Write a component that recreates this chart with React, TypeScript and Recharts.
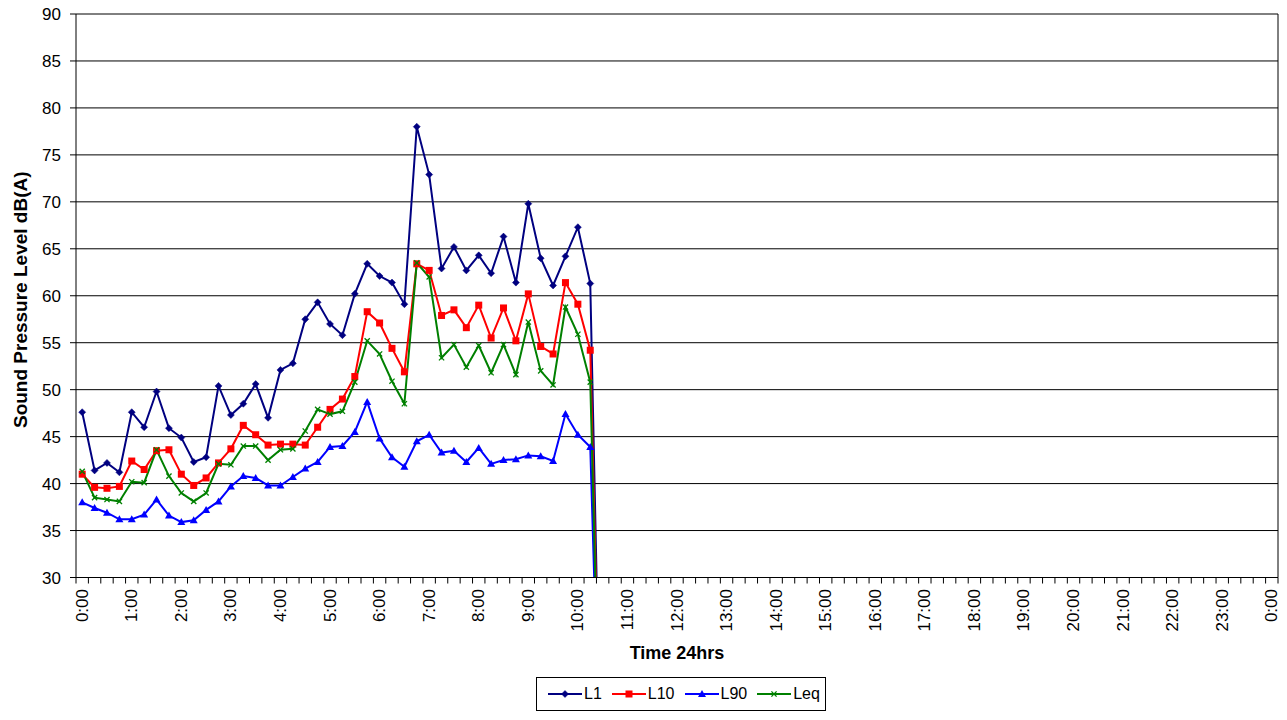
import React from "react";
import {
  LineChart,
  Line,
  XAxis,
  YAxis,
  CartesianGrid,
  Legend,
  ReferenceLine,
} from "recharts";

// 15-minute sample times (category labels)
const times = [
  "0:00", "0:15", "0:30", "0:45", "1:00", "1:15", "1:30", "1:45",
  "2:00", "2:15", "2:30", "2:45", "3:00", "3:15", "3:30", "3:45",
  "4:00", "4:15", "4:30", "4:45", "5:00", "5:15", "5:30", "5:45",
  "6:00", "6:15", "6:30", "6:45", "7:00", "7:15", "7:30", "7:45",
  "8:00", "8:15", "8:30", "8:45", "9:00", "9:15", "9:30", "9:45",
  "10:00", "10:15", "10:30",
];

const L1 = [
  47.6, 41.4, 42.2, 41.2, 47.6, 46.0, 49.8, 45.9, 44.9, 42.3, 42.8, 50.4,
  47.3, 48.5, 50.6, 47.0, 52.1, 52.8, 57.5, 59.3, 57.0, 55.8, 60.2, 63.4,
  62.1, 61.4, 59.1, 78.0, 72.9, 62.9, 65.2, 62.7, 64.3, 62.4, 66.3, 61.4,
  69.8, 64.0, 61.1, 64.2, 67.3, 61.3, 0,
];

const L10 = [
  41.0, 39.6, 39.5, 39.7, 42.4, 41.5, 43.5, 43.6, 41.0, 39.8, 40.6, 42.2,
  43.7, 46.2, 45.2, 44.1, 44.2, 44.2, 44.1, 46.0, 47.9, 49.0, 51.4, 58.3,
  57.1, 54.4, 51.9, 63.4, 62.7, 57.9, 58.5, 56.6, 59.0, 55.5, 58.7, 55.2,
  60.2, 54.6, 53.8, 61.4, 59.1, 54.2, 0,
];

const L90 = [
  38.0, 37.4, 36.9, 36.2, 36.2, 36.7, 38.3, 36.6, 35.9, 36.1, 37.2, 38.1,
  39.7, 40.8, 40.6, 39.8, 39.8, 40.7, 41.6, 42.3, 43.9, 44.0, 45.5, 48.7,
  44.8, 42.8, 41.8, 44.5, 45.2, 43.3, 43.5, 42.3, 43.8, 42.1, 42.5, 42.6,
  43.0, 42.9, 42.4, 47.4, 45.2, 43.9, 0,
];

const Leq = [
  41.3, 38.5, 38.3, 38.1, 40.2, 40.1, 43.6, 40.8, 39.0, 38.1, 39.0, 42.1,
  42.0, 44.0, 44.0, 42.5, 43.6, 43.7, 45.6, 47.9, 47.4, 47.7, 50.8, 55.2,
  53.8, 50.9, 48.5, 63.5, 62.0, 53.4, 54.8, 52.4, 54.7, 51.8, 54.8, 51.6,
  57.2, 52.0, 50.5, 58.8, 55.9, 50.8, 0,
];

// hour tick labels (every 4th 15-min slot, 0:00 .. next-day 0:00)
const hourLabels = [
  "0:00", "1:00", "2:00", "3:00", "4:00", "5:00", "6:00", "7:00", "8:00",
  "9:00", "10:00", "11:00", "12:00", "13:00", "14:00", "15:00", "16:00",
  "17:00", "18:00", "19:00", "20:00", "21:00", "22:00", "23:00", "0:00",
];

const yTicks = [30, 35, 40, 45, 50, 55, 60, 65, 70, 75, 80, 85, 90];

const slotCount = 97; // 0:00 .. 24:00 in 15 min slots
// tick marks sit on slot boundaries; labels are centred in every 4th slot
const boundaryTicks = Array.from({ length: slotCount + 1 }, (_, i) => i - 0.5);

const data = times.map((time, i) => ({
  i,
  time,
  L1: L1[i],
  L10: L10[i],
  L90: L90[i],
  Leq: Leq[i],
}));

const FONT = "'Liberation Sans', Arial, sans-serif";

const CHART_W = 1287;
const CHART_H = 720;
const MARGIN = { top: 14, right: 9, bottom: 9, left: 0 };
const Y_AXIS_W = 76;
const PLOT_W = CHART_W - MARGIN.left - MARGIN.right - Y_AXIS_W;

const COLORS: Record<string, string> = {
  L1: "#000080",
  L10: "#FF0000",
  L90: "#0000FF",
  Leq: "#008000",
};

function Marker({ kind, cx, cy }: { kind: string; cx: number; cy: number }) {
  const c = COLORS[kind];
  if (kind === "L1") {
    const r = 3.5;
    return (
      <polygon
        points={`${cx},${cy - r} ${cx + r},${cy} ${cx},${cy + r} ${cx - r},${cy}`}
        fill={c}
        stroke={c}
        strokeWidth={0.5}
      />
    );
  }
  if (kind === "L10") {
    return <rect x={cx - 3.5} y={cy - 3.5} width={7} height={7} fill={c} />;
  }
  if (kind === "L90") {
    return (
      <polygon
        points={`${cx},${cy - 4} ${cx + 4},${cy + 3} ${cx - 4},${cy + 3}`}
        fill={c}
      />
    );
  }
  const r = 2.6;
  return (
    <g stroke={c} strokeWidth={1.3}>
      <line x1={cx - r} y1={cy - r} x2={cx + r} y2={cy + r} />
      <line x1={cx - r} y1={cy + r} x2={cx + r} y2={cy - r} />
    </g>
  );
}

const makeDot = (kind: string) => (props: any) => {
  const { cx, cy, index } = props;
  if (cx == null || cy == null || !isFinite(cx) || !isFinite(cy)) {
    return <g key={`${kind}-dot-${index}`} />;
  }
  return (
    <g key={`${kind}-dot-${index}`}>
      <Marker kind={kind} cx={cx} cy={cy} />
    </g>
  );
};

const XTick = (props: any) => {
  const { x, y, payload } = props;
  const slot = payload.value + 0.5; // index of slot starting at this boundary
  if (slot % 4 !== 0 || slot >= slotCount) return <g />;
  const label = hourLabels[slot / 4];
  const halfBand = PLOT_W / slotCount / 2;
  const tx = x + halfBand;
  const ty = y + 5.5;
  return (
    <text
      x={tx}
      y={ty}
      transform={`rotate(-90, ${tx}, ${ty})`}
      textAnchor="end"
      dominantBaseline="central"
      fontSize={17}
      fontFamily={FONT}
      fill="#000"
    >
      {label}
    </text>
  );
};

const YLabel = (props: any) => {
  const vb = props.viewBox || { x: 0, y: 0, width: 0, height: 0 };
  const cx = vb.x + 26.5;
  const cy = vb.y + vb.height / 2 + 4;
  return (
    <text
      x={cx}
      y={cy}
      transform={`rotate(-90, ${cx}, ${cy})`}
      textAnchor="middle"
      fontSize={19}
      fontWeight="bold"
      fontFamily={FONT}
      fill="#000"
    >
      Sound Pressure Level dB(A)
    </text>
  );
};

const LegendContent = (props: any) => {
  const payload = props.payload || [];
  return (
    <div
      style={{
        boxSizing: "border-box",
        width: 290,
        height: 34,
        border: "1px solid #000",
        background: "#fff",
        display: "flex",
        alignItems: "center",
        paddingLeft: 11,
        fontSize: 16,
        fontFamily: FONT,
        color: "#000",
      }}
    >
      {payload.map((p: any) => {
        const key = String(p.dataKey);
        return (
          <div
            key={key}
            style={{ display: "flex", alignItems: "center", marginRight: 10 }}
          >
            <svg width={34} height={12} style={{ display: "block" }}>
              <line x1={0} y1={6} x2={34} y2={6} stroke={COLORS[key]} strokeWidth={2} />
              <Marker kind={key} cx={17} cy={6} />
            </svg>
            <span style={{ marginLeft: 2, lineHeight: "16px" }}>{p.value}</span>
          </div>
        );
      })}
    </div>
  );
};

export default function App() {
  return (
    <div style={{ position: "absolute", left: 0, top: 0, fontFamily: FONT }}>
      <LineChart width={CHART_W} height={CHART_H} data={data} margin={MARGIN}>
        <CartesianGrid
          horizontal
          vertical={false}
          stroke="#000"
          strokeWidth={1}
          yAxisId="y"
          xAxisId="x"
        />
        <XAxis
          xAxisId="x"
          type="number"
          dataKey="i"
          domain={[-0.5, slotCount - 0.5]}
          ticks={boundaryTicks}
          interval={0}
          height={99.5}
          tick={<XTick />}
          tickSize={6}
          tickMargin={0}
          tickLine={{ stroke: "#000" }}
          axisLine={{ stroke: "#000" }}
          allowDataOverflow
          label={{
            value: "Time 24hrs",
            position: "insideBottom",
            offset: 18,
            fontSize: 18,
            fontWeight: "bold",
            fontFamily: FONT,
            fill: "#000",
          }}
        />
        <YAxis
          yAxisId="y"
          type="number"
          domain={[30, 90]}
          ticks={yTicks}
          interval={0}
          allowDataOverflow
          width={Y_AXIS_W}
          tickSize={6}
          tickMargin={9}
          tick={{ fontSize: 17, fill: "#000", fontFamily: FONT }}
          tickLine={{ stroke: "#000" }}
          axisLine={{ stroke: "#000" }}
          label={<YLabel />}
        />
        <ReferenceLine
          xAxisId="x"
          yAxisId="y"
          x={slotCount - 0.5}
          stroke="#000"
          strokeWidth={1}
        />
        <Line
          xAxisId="x"
          yAxisId="y"
          type="linear"
          dataKey="L1"
          name="L1"
          stroke={COLORS.L1}
          strokeWidth={2}
          dot={makeDot("L1")}
          isAnimationActive={false}
        />
        <Line
          xAxisId="x"
          yAxisId="y"
          type="linear"
          dataKey="L10"
          name="L10"
          stroke={COLORS.L10}
          strokeWidth={2}
          dot={makeDot("L10")}
          isAnimationActive={false}
        />
        <Line
          xAxisId="x"
          yAxisId="y"
          type="linear"
          dataKey="L90"
          name="L90"
          stroke={COLORS.L90}
          strokeWidth={2}
          dot={makeDot("L90")}
          isAnimationActive={false}
        />
        <Line
          xAxisId="x"
          yAxisId="y"
          type="linear"
          dataKey="Leq"
          name="Leq"
          stroke={COLORS.Leq}
          strokeWidth={2}
          dot={makeDot("Leq")}
          isAnimationActive={false}
        />
        <Legend
          verticalAlign="bottom"
          align="left"
          wrapperStyle={{ left: 536, bottom: 9, width: 290, height: 34 }}
          content={<LegendContent />}
        />
      </LineChart>
    </div>
  );
}
